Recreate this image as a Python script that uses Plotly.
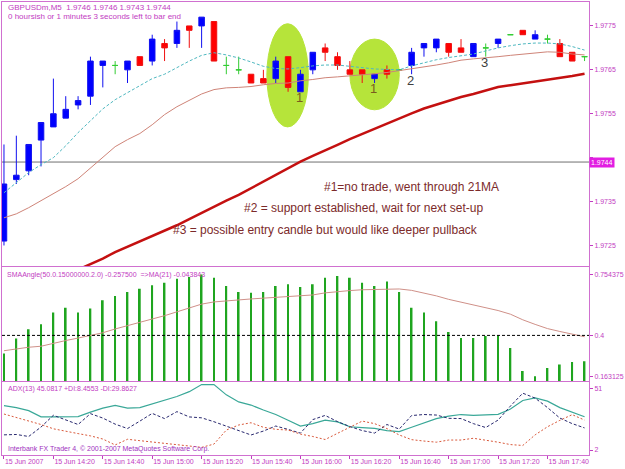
import plotly.graph_objects as go

# ---------------- data ----------------
bars = list(range(48))
tick_bars = [0, 4, 8, 12, 16, 20, 24, 28, 32, 36, 40, 44]
tick_labels = ["15 Jun 2007", "15 Jun 14:20", "15 Jun 14:40", "15 Jun 15:00",
               "15 Jun 15:20", "15 Jun 15:40", "15 Jun 16:00", "15 Jun 16:20",
               "15 Jun 16:40", "15 Jun 17:00", "15 Jun 17:20", "15 Jun 17:40"]

open_ = [1.9726, 1.9740, 1.9742, 1.9749, 1.9752, 1.9754, 1.9757, 1.9759, 1.9766, 1.9766,
         1.9765, 1.9768, 1.9767, 1.9771, 1.9771, 1.9775, 1.9775, 1.9776, 1.9766, 1.9765,
         1.9764, 1.9763, 1.9763, 1.9768, 1.9760, 1.9765, 1.9770, 1.9768, 1.9765, 1.9765,
         1.9763, 1.9765, 1.9765, 1.9766, 1.9770, 1.9770, 1.9771, 1.9770, 1.9768, 1.9770,
         1.9771, 1.9773, 1.9774, 1.9772, 1.9772, 1.9771, 1.9769, 1.9768]
high = [1.9748, 1.9750, 1.9748, 1.9753, 1.9763, 1.9759, 1.9759, 1.9768, 1.9767, 1.9767,
        1.9767, 1.9768, 1.9773, 1.9772, 1.9776, 1.9775, 1.9777, 1.9776, 1.9768, 1.9768,
        1.9764, 1.9765, 1.9768, 1.9768, 1.9765, 1.9769, 1.9771, 1.9769, 1.9767, 1.9765,
        1.9764, 1.9766, 1.9765, 1.9770, 1.9771, 1.9772, 1.9771, 1.9772, 1.9771, 1.9771,
        1.9772, 1.9773, 1.9774, 1.9774, 1.9773, 1.9772, 1.9769, 1.9768]
low = [1.9725, 1.9739, 1.9741, 1.9743, 1.9752, 1.9754, 1.9756, 1.9757, 1.9761, 1.9764,
       1.9762, 1.9766, 1.9766, 1.9767, 1.9770, 1.9770, 1.9770, 1.9767, 1.9764, 1.9764,
       1.9762, 1.9762, 1.9762, 1.9760, 1.9760, 1.9764, 1.9767, 1.9765, 1.9764, 1.9762,
       1.9762, 1.9763, 1.9765, 1.9764, 1.9768, 1.9769, 1.9768, 1.9769, 1.9768, 1.9768,
       1.9770, 1.9773, 1.9773, 1.9772, 1.9771, 1.9768, 1.9767, 1.9767]
close = [1.9739, 1.9741, 1.9748, 1.9753, 1.9755, 1.9756, 1.9758, 1.9767, 1.9767, 1.9766,
         1.9767, 1.9766, 1.9772, 1.9770, 1.9774, 1.9774, 1.9777, 1.9767, 1.9766, 1.9765,
         1.9762, 1.9762, 1.9767, 1.9761, 1.9764, 1.9769, 1.9769, 1.9766, 1.9764, 1.9764,
         1.9764, 1.9764, 1.9765, 1.9769, 1.9771, 1.9772, 1.9769, 1.9769, 1.9771, 1.9770,
         1.9772, 1.9773, 1.9773, 1.9773, 1.9772, 1.9768, 1.9767, 1.9768]

ma_fast = [1.97370, 1.97393, 1.97416, 1.97434, 1.97450, 1.97477, 1.97507, 1.97534, 1.97561, 1.97582,
           1.97598, 1.97614, 1.97630, 1.97640, 1.97655, 1.97670, 1.97683, 1.97689, 1.97684, 1.97677,
           1.97668, 1.97658, 1.97653, 1.97652, 1.97655, 1.97659, 1.97661, 1.97661, 1.97658, 1.97655,
           1.97652, 1.97651, 1.97650, 1.97659, 1.97666, 1.97673, 1.97678, 1.97682, 1.97686, 1.97693,
           1.97700, 1.97705, 1.97709, 1.97711, 1.97711, 1.97709, 1.97703, 1.97695]
ma_21 = [1.97313, 1.97322, 1.97336, 1.97352, 1.97367, 1.97384, 1.97402, 1.97427, 1.97450, 1.97475,
         1.97491, 1.97505, 1.97525, 1.97548, 1.97566, 1.97580, 1.97595, 1.97605, 1.97609, 1.97610,
         1.97612, 1.97616, 1.97619, 1.97620, 1.97625, 1.97628, 1.97632, 1.97634, 1.97636, 1.97639,
         1.97641, 1.97644, 1.97648, 1.97652, 1.97657, 1.97661, 1.97666, 1.97672, 1.97675, 1.97677,
         1.97680, 1.97683, 1.97686, 1.97689, 1.97691, 1.97690, 1.97686, 1.97684]
ma_slow = [1.97120, 1.97133, 1.97145, 1.97158, 1.97170, 1.97183, 1.97195, 1.97208, 1.97220, 1.97235,
           1.97247, 1.97260, 1.97272, 1.97284, 1.97296, 1.97310, 1.97324, 1.97339, 1.97352, 1.97365,
           1.97380, 1.97395, 1.97410, 1.97426, 1.97441, 1.97454, 1.97466, 1.97479, 1.97492, 1.97504,
           1.97516, 1.97528, 1.97540, 1.97551, 1.97562, 1.97571, 1.97580, 1.97588, 1.97595, 1.97603,
           1.97611, 1.97615, 1.97619, 1.97623, 1.97627, 1.97632, 1.97636, 1.97641]
current_price = 1.9744
price_ticks = [1.9725, 1.9735, 1.9745, 1.9755, 1.9765, 1.9775]
price_ticktext = ["1.9725", "1.9735", "", "1.9755", "1.9765", "1.9775"]

sma_angle = [0.2947, 0.3817, 0.4356, 0.4645, 0.5324, 0.5613, 0.5324, 0.5556, 0.6037, 0.6286,
             0.6518, 0.6715, 0.6906, 0.7063, 0.7295, 0.7387, 0.7544, 0.7353, 0.6866, 0.6518,
             0.6483, 0.6518, 0.6866, 0.6964, 0.6808, 0.6964, 0.7353, 0.7445, 0.7353, 0.7063,
             0.6866, 0.7138, 0.6518, 0.5613, 0.5324, 0.4819, 0.4199, 0.3851, 0.3851, 0.3967,
             0.4008, 0.3272, 0.1938, 0.1631, 0.2112, 0.2309, 0.2460, 0.2501]
sma_angle_ma = [0.3109, 0.3225, 0.3312, 0.3370, 0.3544, 0.3701, 0.3845, 0.4008, 0.4153, 0.4373,
                0.4553, 0.4773, 0.4953, 0.5144, 0.5370, 0.5585, 0.5817, 0.5944, 0.6013, 0.6066,
                0.6118, 0.6164, 0.6210, 0.6251, 0.6280, 0.6350, 0.6471, 0.6558, 0.6604, 0.6651,
                0.6674, 0.6697, 0.6697, 0.6616, 0.6477, 0.6297, 0.6094, 0.5932, 0.5776, 0.5619,
                0.5445, 0.5231, 0.4906, 0.4640, 0.4396, 0.4228, 0.4066, 0.3921]
sma_level = 0.4
sma_ticks = [0.754375, 0.4, 0.163125]
sma_ticktext = ["0.754375", "0.4", "0.163125"]

adx = [37.2, 35.6, 33.2, 28.3, 28.3, 28.3, 28.5, 32.0, 35.2, 37.4,
       35.2, 35.6, 38.5, 41.2, 44.4, 48.2, 53.9, 53.8, 45.7, 40.1,
       37.6, 33.7, 30.1, 25.6, 21.0, 22.9, 25.7, 24.3, 20.4, 19.8,
       19.1, 17.3, 16.6, 20.0, 23.4, 26.9, 28.9, 30.1, 29.4, 29.5,
       30.2, 34.4, 41.2, 43.2, 40.7, 35.6, 32.0, 28.3]
plus_di = [14.0, 14.3, 12.7, 20.2, 29.5, 25.7, 22.2, 30.8, 27.3, 22.5,
           19.0, 24.9, 31.0, 26.9, 32.4, 28.2, 27.5, 24.4, 21.0, 17.6,
           13.9, 17.0, 21.0, 18.3, 15.4, 26.1, 29.4, 24.5, 20.6, 17.4,
           15.4, 22.2, 18.6, 29.3, 30.1, 29.7, 27.1, 26.9, 22.9, 19.8,
           25.7, 36.8, 47.0, 43.1, 35.6, 27.3, 22.9, 19.5]
minus_di = [30.5, 27.8, 25.1, 22.2, 18.8, 16.6, 15.0, 13.2, 10.7, 6.0,
            10.5, 9.4, 8.3, 7.4, 6.4, 5.0, 4.1, 6.7, 17.8, 21.8,
            23.6, 20.0, 18.4, 17.8, 14.6, 12.7, 10.3, 15.2, 20.2, 24.9,
            22.9, 19.0, 13.9, 10.2, 9.1, 8.2, 9.9, 9.9, 11.3, 9.9,
            8.2, 6.3, 5.6, 14.0, 20.4, 25.5, 30.0, 25.7]
adx_ticks = [51, 2]

# ---------------- styling ----------------
MAG = "#c23cc2"
BORDER = "#d070d0"
FONT = "Liberation Sans, Arial, sans-serif"

body_idx = [i for i in bars if open_[i] != close[i]]
doji_idx = [i for i in bars if open_[i] == close[i]]
pick = lambda idx, arr: [arr[i] for i in idx]

fig = go.Figure()

fig.add_trace(go.Scatter(x=bars, y=ma_21, mode="lines", line=dict(color="#cf8478", width=1),
                         xaxis="x", yaxis="y", hoverinfo="skip"))
fig.add_trace(go.Scatter(x=bars, y=ma_slow, mode="lines", line=dict(color="#c41010", width=2.5),
                         xaxis="x", yaxis="y", hoverinfo="skip"))
fig.add_trace(go.Scatter(x=bars, y=ma_fast, mode="lines",
                         line=dict(color="#4fb8c0", width=1, dash="3px,2px"),
                         xaxis="x", yaxis="y", hoverinfo="skip"))
fig.add_trace(go.Candlestick(
    x=pick(body_idx, bars), open=pick(body_idx, open_), high=pick(body_idx, high),
    low=pick(body_idx, low), close=pick(body_idx, close),
    increasing=dict(line=dict(color="#1010f0", width=1), fillcolor="#0000ff"),
    decreasing=dict(line=dict(color="#f01010", width=1), fillcolor="#ff0000"),
    whiskerwidth=0, xaxis="x", yaxis="y", hoverinfo="skip"))
fig.add_trace(go.Candlestick(
    x=pick(doji_idx, bars), open=pick(doji_idx, open_), high=pick(doji_idx, high),
    low=pick(doji_idx, low), close=pick(doji_idx, close),
    increasing=dict(line=dict(color="#33cc33", width=1), fillcolor="#33cc33"),
    decreasing=dict(line=dict(color="#33cc33", width=1), fillcolor="#33cc33"),
    whiskerwidth=0, xaxis="x", yaxis="y", hoverinfo="skip"))

fig.add_trace(go.Bar(x=bars, y=sma_angle, width=0.14, marker=dict(color="#1fa51f", line=dict(width=0)),
                     xaxis="x2", yaxis="y2", hoverinfo="skip"))
fig.add_trace(go.Scatter(x=bars, y=sma_angle_ma, mode="lines", line=dict(color="#cf9088", width=1),
                         xaxis="x2", yaxis="y2", hoverinfo="skip"))

fig.add_trace(go.Scatter(x=bars, y=adx, mode="lines", line=dict(color="#3aa898", width=1.2),
                         xaxis="x3", yaxis="y3", hoverinfo="skip"))
fig.add_trace(go.Scatter(x=bars, y=plus_di, mode="lines", line=dict(color="#28286e", width=1, dash="3px,2px"),
                         xaxis="x3", yaxis="y3", hoverinfo="skip"))
fig.add_trace(go.Scatter(x=bars, y=minus_di, mode="lines", line=dict(color="#d8583a", width=1, dash="2px,2px"),
                         xaxis="x3", yaxis="y3", hoverinfo="skip"))

xr = [-0.16, 47.36]
xbase = dict(range=xr, showgrid=False, zeroline=False, showline=True, mirror=True,
             linecolor=BORDER, linewidth=1, showticklabels=False, ticks="", fixedrange=True)
ybase = dict(showgrid=False, zeroline=False, showline=True, mirror=True, linecolor=BORDER,
             linewidth=1, side="right", ticks="outside", ticklen=3, tickcolor=MAG,
             tickfont=dict(family=FONT, size=7, color=MAG), fixedrange=True)

fig.update_layout(
    width=625, height=469, margin=dict(l=1, r=30, t=1, b=14),
    paper_bgcolor="white", plot_bgcolor="white", showlegend=False, boxgap=0.36,
    xaxis=dict(**xbase, domain=[0, 1], anchor="y", rangeslider=dict(visible=False)),
    xaxis2=dict(**xbase, domain=[0, 1], anchor="y2"),
    xaxis3=dict(**{**xbase, "ticks": "outside", "showticklabels": True},
                domain=[0, 1], anchor="y3", tickvals=tick_bars, ticktext=tick_labels,
                ticklen=3, tickcolor=MAG, ticklabelposition="outside right", tickangle=0,
                tickfont=dict(family=FONT, size=7, color=MAG)),
    yaxis=dict(**ybase, domain=[0.4174, 1.0], anchor="x", range=[1.972034, 1.978045],
               tickvals=price_ticks, ticktext=price_ticktext),
    yaxis2=dict(**ybase, domain=[0.163, 0.4141], anchor="x2", range=[0.13414, 0.79495],
                tickvals=sma_ticks, ticktext=sma_ticktext),
    yaxis3=dict(**ybase, domain=[0, 0.1608], anchor="x3", range=[-1.95, 55.74],
                tickvals=adx_ticks, ticktext=[str(v) for v in adx_ticks]),
)

ELL = "#b6e43a"
fig.add_shape(type="circle", xref="x", yref="y", x0=21.28, x1=24.64, y0=1.97520, y1=1.97755,
              fillcolor=ELL, line=dict(color=ELL, width=1), layer="below")
fig.add_shape(type="circle", xref="x", yref="y", x0=28.0, x1=32.0, y0=1.97559, y1=1.97720,
              fillcolor=ELL, line=dict(color=ELL, width=1), layer="below")
fig.add_shape(type="line", xref="x domain", yref="y", x0=0, x1=1, y0=current_price, y1=current_price,
              line=dict(color="#707070", width=1), layer="below")
fig.add_shape(type="line", xref="x2 domain", yref="y2", x0=0, x1=1, y0=sma_level, y1=sma_level,
              line=dict(color="black", width=1, dash="3px,2px"))

def txt(x, y, s, size=7, color=MAG, xanchor="left", bg=None):
    fig.add_annotation(xref="paper", yref="paper", x=x, y=y, text=s, showarrow=False,
                       xanchor=xanchor, yanchor="middle", align="left",
                       font=dict(family=FONT, size=size, color=color),
                       bgcolor=bg, borderpad=0)

txt(0.008, 0.9875, "GBPUSDm,M5  1.9746 1.9746 1.9743 1.9744", size=8)
txt(0.008, 0.9676, "0 hoursish or 1 minutes 3 seconds left to bar end", size=8)
txt(0.006, 0.3965, "SMAAngle(50.0.15000000.2.0) -0.257500  =>MA(21) -0.043843", size=7)
txt(0.008, 0.1447, "ADX(13) 45.0817 +DI:8.4553 -DI:29.8627", size=7)
txt(0.008, 0.0132, "Interbank FX Trader 4, © 2001-2007 MetaQuotes Software Corp.", size=7, color="#a030c0")

fig.add_annotation(xref="paper", yref="y", x=1.0, y=current_price, text="1.9744", showarrow=False,
                   xanchor="left", yanchor="middle", font=dict(family=FONT, size=7, color="white"),
                   bgcolor="#e21ee2", borderpad=1)

NOTE = "#7c2a2a"
txt(0.5471, 0.591, "#1=no trade, went through 21MA", size=12, color=NOTE)
txt(0.4108, 0.5463, "#2 = support established, wait for next set-up", size=12, color=NOTE)
txt(0.2896, 0.4956, "#3 = possible entry candle but would like deeper pullback", size=12, color=NOTE)

txt(0.5067, 0.7885, "1", size=13, color="#7a5c1e", xanchor="center")
txt(0.6330, 0.8084, "1", size=13, color="#7a5c1e", xanchor="center")
txt(0.6953, 0.8260, "2", size=13, color="#404040", xanchor="center")
txt(0.8215, 0.8656, "3", size=13, color="#404040", xanchor="center")

fig.write_html("out.html")
